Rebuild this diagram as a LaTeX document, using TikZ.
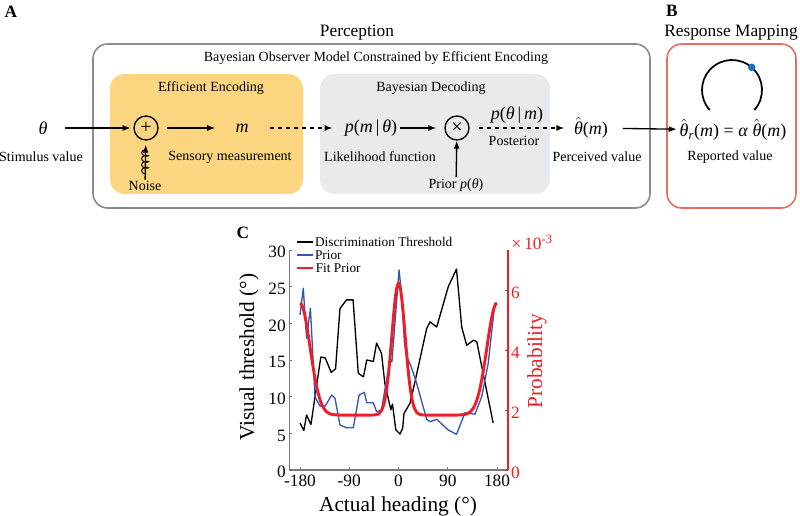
\documentclass[tikz,border=0pt]{standalone}
\usepackage{fontspec}
\setmainfont{Liberation Serif}
\usepackage{tikz}
\usetikzlibrary{shapes,arrows.meta,positioning,decorations.pathmorphing}

\definecolor{encyellow}{RGB}{252,213,128}
\definecolor{decgray}{RGB}{233,234,236}
\definecolor{boxgray}{RGB}{140,140,140}
\definecolor{respred}{RGB}{232,110,96}
\definecolor{dotblue}{RGB}{25,110,190}
\definecolor{priorblue}{RGB}{55,85,180}
\definecolor{fitred}{RGB}{238,30,40}
\definecolor{axisgray}{RGB}{120,120,120}

\newcommand{\hatth}{$\hat{\mbox{\itshape θ}}$}

\tikzstyle{txt} = [inner sep=1pt, font=\fontsize{10.5}{12}\selectfont]
\tikzstyle{var} = [inner sep=1pt, font=\fontsize{13.5}{15}\selectfont]
\tikzstyle{title} = [inner sep=1pt, font=\fontsize{13}{15}\selectfont]
\tikzstyle{panel} = [inner sep=0pt, font=\fontsize{13}{15}\selectfont\bfseries]
\tikzstyle{op} = [circle, draw, line width=1pt, minimum size=18pt, inner sep=0pt, font=\fontsize{15}{16}\selectfont]
\tikzstyle{arr} = [draw, line width=1pt, -{Latex[length=6pt,width=4.5pt]}]
\tikzstyle{darr} = [arr, dashed]
\tikzstyle{ticklab} = [inner sep=1pt, font=\fontsize{13}{15}\selectfont]
\tikzstyle{axlab} = [inner sep=1pt, font=\fontsize{16}{18}\selectfont]
\tikzstyle{leg} = [inner sep=1pt, anchor=west, text=black, font=\fontsize{10}{12}\selectfont]

\begin{document}
\begin{tikzpicture}[x=0.75pt, y=-0.75pt]
  \useasboundingbox (0,0) rectangle (800,516);

  % panel A: boxes
  \draw [boxgray, line width=1.2pt, rounded corners=11pt] (93,44) rectangle (650,208);
  \fill [encyellow, rounded corners=11pt] (110,74) rectangle (303,194);
  \fill [decgray, rounded corners=11pt] (320,74) rectangle (550,194);
  \draw [respred, line width=1.2pt, rounded corners=11pt] (667,44) rectangle (796,208);

  \node [panel] (labA) at (11,12) {A};
  \node [panel] (labB) at (672,11) {B};
  \node [title] (perc) at (357,33) {Perception};
  \node [title] (resp) at (731,33) {Response Mapping};
  \node [txt] (bayes) at (376,58) {Bayesian Observer Model Constrained by Efficient Encoding};
  \node [txt] (enc) at (211,88) {Efficient Encoding};
  \node [txt] (dec) at (431,88) {Bayesian Decoding};

  % main row
  \node [var] (theta) at (43,128) {\textit{θ}};
  \node [op] (plus) at (146,128) {+};
  \node [var] (m) at (242,128) {\textit{m}};
  \node [var] (lik) at (371,128) {\textit{p}(\textit{m}\,|\,\textit{θ})};
  \node [op] (times) at (457,128) {×};
  \node [var] (post) at (517,115) {\textit{p}(\textit{θ}\,|\,\textit{m})};
  \node [var] (perv) at (591,128) {\hatth(\textit{m})};
  \node [var] (repv) at (733,130) {\hatth$_{\mbox{\fontsize{9.5}{10}\selectfont\itshape r}}$(\textit{m}) = \textit{α} \hatth(\textit{m})};

  \node [txt] (stim) at (41,157) {Stimulus value};
  \node [txt] (sens) at (230,157) {Sensory measurement};
  \node [txt] (likf) at (380,157) {Likelihood function};
  \node [txt] (postl) at (514,141) {Posterior};
  \node [txt] (percl) at (597,157) {Perceived value};
  \node [txt] (repl) at (730,157) {Reported value};
  \node [txt] (noise) at (145,186) {Noise};
  \node [txt] (prior) at (456,185) {Prior \textit{p}(\textit{θ})};

  \path [arr, shorten <=12pt, shorten >=2pt] (theta) -- (plus);
  \path [arr, shorten <=6.5pt, shorten >=14pt] (plus) -- (m);
  \path [darr, shorten <=15pt, shorten >=8pt] (m) -- (lik);
  \path [arr, shorten <=1pt, shorten >=6pt] (lik.east |- times) -- (times);
  \path [darr, shorten <=7pt, shorten >=6pt] (times) -- (perv);
  \path [arr, shorten <=10pt, shorten >=1pt] (perv) -- (repv);
  \path [arr, shorten >=3pt] (noise) -- (plus);
  \path [arr] (prior) -- (times);

  % noise squiggle
  \coordinate (nz1) at (145,174);
  \coordinate (nz2) at (145,149);
  \draw [line width=0.7pt, decorate, decoration={coil, aspect=0.5, amplitude=2.6pt, segment length=4.5pt}] (nz1) -- (nz2);

  % dial
  \coordinate (dial) at (732,90);
  \draw [line width=1.3pt] (dial) ++(42:30) arc (42:-222:30);
  \fill [dotblue] (dial) ++(-49:30) circle (3.8);

  % panel C
  \node [panel] (labC) at (243,233) {C};
  \node [axlab, rotate=90] (ylab) at (249,357) {Visual threshold (°)};
  \node [axlab, text=fitred, rotate=90] (plab) at (537,361) {Probability};
  \node [axlab] (xlab) at (398,506) {Actual heading (°)};
  \node [ticklab, text=fitred, anchor=west] (expo) at (510,242) {×\,10$^{\mbox{\fontsize{9.5}{10}\selectfont -3}}$};

  \begin{scope}[shift={(398.5,470)}, x=0.4104pt, y=5.5pt]
    \draw [axisgray, line width=0.8pt] (-200,30) -- (-200,0) -- (200,0);
    \draw [fitred, line width=0.9pt] (200,0) -- (200,30);
    \foreach \t in {0,5,...,30} {
      \draw [axisgray, line width=0.6pt] (-200,\t) -- ++(2.5pt,0);
      \node [ticklab, anchor=east] at (-203,\t-0.3) {\t};
    }
    \foreach \h in {-180,-90,0,90,180} {
      \draw [axisgray, line width=0.6pt] (\h,0) -- ++(0,2.5pt);
      \node [ticklab, anchor=north] at (\h,-0.4) {\h};
    }
    % threshold
    \draw [black, line width=1pt, line join=round] plot coordinates {
      (-180,6.4) (-173,5.4) (-168,7.5) (-160,6.2) (-142,15.4) (-134,15.3)
      (-123,13.3) (-115,13.8) (-107,22.0) (-95,23.2) (-83,23.2) (-73.5,13.2)
      (-64,12.7) (-58,15.0) (-46,14.8) (-40,17.3) (-31,15.9) (-25,11.8)
      (-14,8.2) (-11,9.0) (-5,5.5) (2.7,4.9) (7.6,5.7) (10,7.7) (21,9.1)
      (30,12.0) (51.5,19.3) (57.6,20.2) (69.8,19.5) (91,25.0) (106,27.4)
      (115.5,19.5) (124.6,17.0) (137,17.7) (143,17.5) (173,6.4)};
    \begin{scope}[y=22.5pt]
      \foreach \p in {0,2,4,6} {
        \draw [fitred, line width=0.6pt] (200,\p) -- ++(-2.5pt,0);
        \node [ticklab, text=fitred, anchor=west] at (203,\p-0.1) {\p};
      }
      % prior
      \draw [priorblue, line width=1pt, line join=round] plot coordinates {
        (-180,5.17) (-174,6.06) (-168,4.39) (-161,5.39) (-152.6,2.44)
        (-143.5,2.13) (-134,2.13) (-122,2.5) (-116,2.39) (-107,1.5) (-95,1.41)
        (-82.6,1.41) (-72,2.5) (-62.4,2.59) (-58,2.24) (-46,2.24) (-40,1.94)
        (-31,2.0) (-25,2.67) (-15,3.7) (-12,3.6) (-6,5.0) (1,6.67) (6,5.8)
        (11,4.2) (15,3.8) (24,3.4) (33,2.9) (51.5,1.69) (57.6,1.61) (70,1.69)
        (91,1.33) (106,1.19) (121.5,1.91) (127.6,1.89) (139.8,1.86) (152,2.44)
        (164,3.56) (176,5.56) (180,5.56)};
      % fitted prior
      \draw [fitred, line width=2.2pt] plot [domain=-180:180, samples=181, smooth]
        (\x, {1.83 + 4.39*exp(max(-9,-(\x/17)*(\x/17)))
          + 3.73*exp(max(-9,-((180-abs(\x))/26)*((180-abs(\x))/26)))});
    \end{scope}
  \end{scope}

  % legend
  \coordinate (lg1) at (297,242);
  \coordinate (lg2) at (297,255);
  \coordinate (lg3) at (297,268);
  \draw [black, line width=1pt] (lg1) -- ++(16,0) node [leg] (legthr) {Discrimination Threshold};
  \draw [priorblue, line width=1pt] (lg2) -- ++(16,0) node [leg] (legpri) {Prior};
  \draw [fitred, line width=2.2pt] (lg3) -- ++(16,0) node [leg] (legfit) {Fit Prior};
\end{tikzpicture}
\end{document}
